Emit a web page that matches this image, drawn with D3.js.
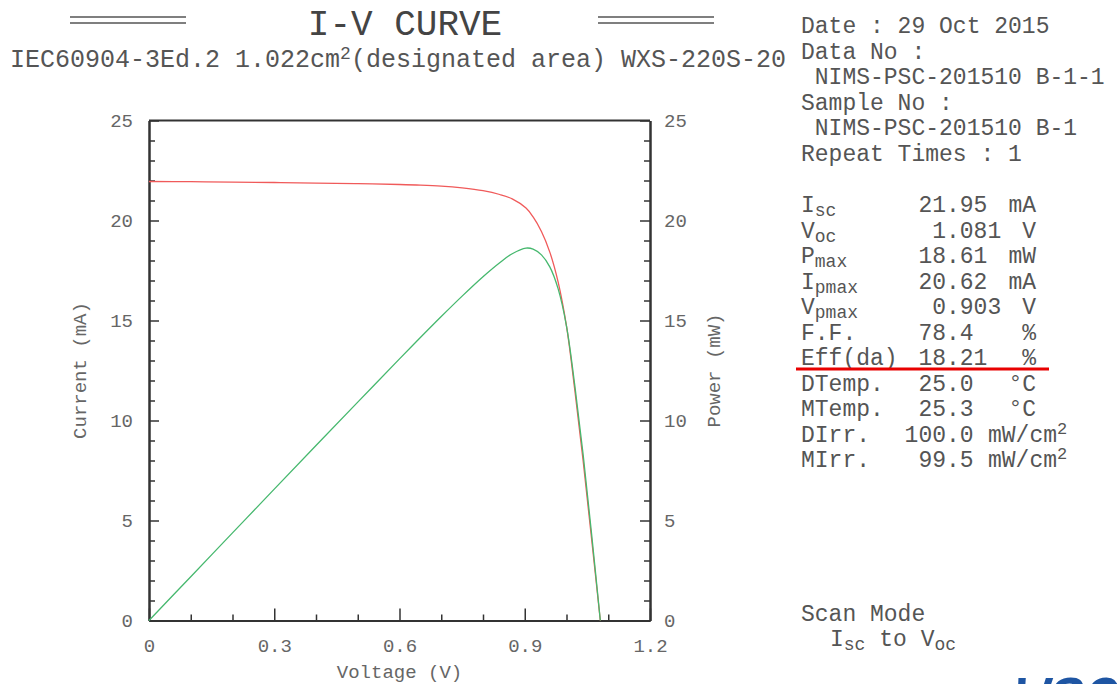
<!DOCTYPE html>
<html>
<head>
<meta charset="utf-8">
<script src="https://cdn.jsdelivr.net/npm/d3@7"></script>
<style>
  body { margin: 0; background: #fff; }
  svg { display: block; }
  text { font-family: "Liberation Mono", "DejaVu Sans Mono", monospace; fill: #555; }
</style>
</head>
<body>
<svg width="1117" height="684"></svg>
<script>
const voltage = [0, 0.1, 0.2, 0.3, 0.4, 0.5, 0.6, 0.65, 0.7, 0.75, 0.8, 0.84, 0.87, 0.903, 0.92, 0.94, 0.96, 0.98, 1.0, 1.02, 1.04, 1.06, 1.081];
const current = [21.95, 21.94, 21.92, 21.90, 21.87, 21.84, 21.80, 21.77, 21.72, 21.63, 21.49, 21.30, 21.08, 20.62, 20.18, 19.45, 18.42, 16.92, 14.72, 11.50, 7.95, 4.10, 0];
const power = [0, 2.19, 4.38, 6.57, 8.75, 10.92, 13.08, 14.15, 15.20, 16.22, 17.19, 17.89, 18.34, 18.62, 18.57, 18.28, 17.68, 16.58, 14.72, 11.73, 8.27, 4.35, 0];

const xTickValues = [0, 0.3, 0.6, 0.9, 1.2];
const xTickLabels = ['0', '0.3', '0.6', '0.9', '1.2'];
const xMinorTicks = [0.1, 0.2, 0.4, 0.5, 0.7, 0.8, 1.0, 1.1];
const yTickValues = [0, 5, 10, 15, 20, 25];
const yMinorTicks = d3.range(0, 26).filter(v => v % 5 !== 0);

const headerLines = ['Date : 29 Oct 2015', 'Data No :', ' NIMS-PSC-201510 B-1-1', 'Sample No :', ' NIMS-PSC-201510 B-1', 'Repeat Times : 1'];
const paramNames = [['I', 'sc'], ['V', 'oc'], ['P', 'max'], ['I', 'pmax'], ['V', 'pmax'], ['F.F.', ''], ['Eff(da)', ''], ['DTemp.', ''], ['MTemp.', ''], ['DIrr.', ''], ['MIrr.', '']];
const paramValues = ['21.95', '1.081', '18.61', '20.62', '0.903', '78.4', '18.21', '25.0', '25.3', '100.0', '99.5'];
const paramUnits = ['mA', 'V', 'mW', 'mA', 'V', '%', '%', '°C', '°C', 'mW/cm', 'mW/cm'];

const svg = d3.select('svg');
svg.append('rect').attr('width', 1117).attr('height', 684).attr('fill', '#fff');

const x = d3.scaleLinear().domain([0, 1.2]).range([149, 650]);
const y = d3.scaleLinear().domain([0, 25]).range([620.5, 120.5]);

// header
svg.append('text').attr('x', 405).attr('y', 35).attr('text-anchor', 'middle')
  .attr('font-size', 36).style('fill', '#444').text('I-V CURVE');
[[70, 186], [598, 714]].forEach(([a, b]) => {
  [17, 23].forEach(yy => {
    svg.append('line').attr('x1', a).attr('x2', b).attr('y1', yy).attr('y2', yy)
      .attr('stroke', '#555').attr('stroke-width', 1.5);
  });
});
const sub = svg.append('text').attr('x', 10).attr('y', 67).attr('font-size', 25);
sub.append('tspan').text('IEC60904-3Ed.2 1.022cm');
sub.append('tspan').attr('font-size', 18).attr('dy', -8).text('2');
sub.append('tspan').attr('dy', 8).text('(designated area) WXS-220S-20');

// plot frame
svg.append('line').attr('x1', x(0)).attr('x2', x(1.2)).attr('y1', y(25)).attr('y2', y(25))
  .attr('stroke', '#333').attr('stroke-width', 2);

function styleAxis(g) {
  g.select('.domain').attr('stroke', '#333').attr('stroke-width', 2);
  g.selectAll('.tick line').attr('stroke', '#333').attr('stroke-width', 1.5);
  g.selectAll('.tick text').attr('font-size', 19).style('fill', '#666')
    .attr('font-family', '"Liberation Mono", monospace');
}

// left
svg.append('g').attr('transform', `translate(${x(0)},0)`)
  .call(d3.axisLeft(y).tickValues(yMinorTicks).tickSize(-6).tickFormat('').tickSizeOuter(0))
  .call(styleAxis);
svg.append('g').attr('transform', `translate(${x(0)},0)`)
  .call(d3.axisLeft(y).tickValues(yTickValues).tickSize(-10).tickPadding(16).tickSizeOuter(0))
  .call(styleAxis);
// right
svg.append('g').attr('transform', `translate(${x(1.2)},0)`)
  .call(d3.axisRight(y).tickValues(yMinorTicks).tickSize(-6).tickFormat('').tickSizeOuter(0))
  .call(styleAxis);
svg.append('g').attr('transform', `translate(${x(1.2)},0)`)
  .call(d3.axisRight(y).tickValues(yTickValues).tickSize(-10).tickPadding(14).tickSizeOuter(0))
  .call(styleAxis);
// bottom
svg.append('g').attr('transform', `translate(0,${y(0)})`)
  .call(d3.axisBottom(x).tickValues(xMinorTicks).tickSize(-6).tickFormat('').tickSizeOuter(0))
  .call(styleAxis);
svg.append('g').attr('transform', `translate(0,${y(0)})`)
  .call(d3.axisBottom(x).tickValues(xTickValues).tickSize(-12).tickPadding(18)
    .tickFormat((d, i) => xTickLabels[i]).tickSizeOuter(0))
  .call(styleAxis);

// axis titles
svg.append('text').attr('transform', `translate(86,${y(12.5)}) rotate(-90)`)
  .attr('text-anchor', 'middle').attr('font-size', 19).style('fill', '#666').text('Current (mA)');
svg.append('text').attr('transform', `translate(720,${y(12.5)}) rotate(-90)`)
  .attr('text-anchor', 'middle').attr('font-size', 19).style('fill', '#666').text('Power (mW)');
svg.append('text').attr('x', x(0.6)).attr('y', 678).attr('text-anchor', 'middle')
  .attr('font-size', 19).style('fill', '#666').text('Voltage (V)');

// curves
const ivData = voltage.map((v, i) => ({ v, val: current[i] }));
const pvData = voltage.map((v, i) => ({ v, val: power[i] }));
const line = d3.line().x(d => x(d.v)).y(d => y(d.val)).curve(d3.curveCatmullRom.alpha(0.5));

svg.append('path').datum(ivData).attr('d', line)
  .attr('fill', 'none').attr('stroke', '#f05a5a').attr('stroke-width', 1.3);
svg.append('path').datum(pvData).attr('d', line)
  .attr('fill', 'none').attr('stroke', '#46b86e').attr('stroke-width', 1.3);

// info panel
headerLines.forEach((t, i) => {
  svg.append('text').attr('x', 801).attr('y', 33 + i * 25.6).attr('font-size', 23)
    .attr('xml:space', 'preserve').style('white-space', 'pre').text(t);
});

const charW = 23 * 0.6;
paramNames.forEach((nm, i) => {
  const yy = 212 + i * 25.5;
  const lab = svg.append('text').attr('x', 801).attr('y', yy).attr('font-size', 23);
  lab.append('tspan').text(nm[0]);
  if (nm[1]) lab.append('tspan').attr('font-size', 18).attr('dy', 4).text(nm[1]);

  const val = paramValues[i];
  svg.append('text').attr('x', 946 - val.indexOf('.') * charW).attr('y', yy)
    .attr('font-size', 23).text(val);

  const unit = paramUnits[i];
  if (unit === 'mW/cm') {
    const u = svg.append('text').attr('x', 988).attr('y', yy).attr('font-size', 23);
    u.append('tspan').text(unit);
    u.append('tspan').attr('font-size', 17).attr('dy', -8).text('2');
  } else {
    svg.append('text').attr('x', 1036).attr('y', yy).attr('text-anchor', 'end')
      .attr('font-size', 23).text(unit);
  }
});

// highlight under efficiency
svg.append('line').attr('x1', 796).attr('x2', 1049).attr('y1', 369).attr('y2', 369)
  .attr('stroke', '#e80000').attr('stroke-width', 3);

// scan mode
svg.append('text').attr('x', 801).attr('y', 621).attr('font-size', 23).text('Scan Mode');
const sm = svg.append('text').attr('x', 830).attr('y', 646).attr('font-size', 23);
sm.append('tspan').text('I');
sm.append('tspan').attr('font-size', 18).attr('dy', 4).text('sc');
sm.append('tspan').attr('dy', -4).text(' to V');
sm.append('tspan').attr('font-size', 18).attr('dy', 4).text('oc');

// logo fragment at the corner
svg.append('text').attr('x', 1014).attr('y', 716).attr('font-size', 58)
  .attr('font-weight', 'bold').attr('font-style', 'italic')
  .attr('font-family', '"Liberation Sans", sans-serif').style('fill', '#1e55a3').text('WSC');
</script>
</body>
</html>
